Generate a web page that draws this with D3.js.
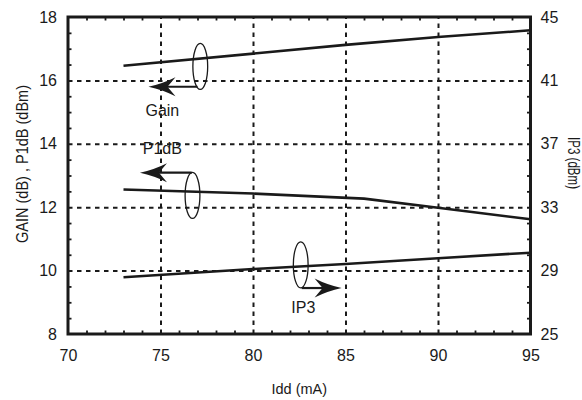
<!DOCTYPE html>
<html>
<head>
<meta charset="utf-8">
<script src="https://cdn.jsdelivr.net/npm/d3@7"></script>
<style>
  html, body { margin: 0; padding: 0; background: #fff; }
  svg { display: block; font-family: Arial, "Liberation Sans", Helvetica, sans-serif; }
</style>
</head>
<body>
<svg id="chart" width="582" height="400"></svg>
<script>
// Drain current sweep (mA) and measured curves
const iddGain = [73, 85, 90, 95];
const gainDb  = [16.46, 17.12, 17.37, 17.58];

const iddP1 = [73, 80, 86, 90, 95];
const p1dBm = [12.56, 12.43, 12.27, 11.98, 11.62];

const iddIp3 = [73, 80, 85, 90, 95];
const ip3dBm = [28.58, 29.10, 29.42, 29.78, 30.13];

// Axis ticks
const xTickLabels  = [70, 75, 80, 85, 90, 95];
const yLeftLabels  = [8, 10, 12, 14, 16, 18];
const yRightLabels = [25, 29, 33, 37, 41, 45];
const xGrid = [75, 80, 85, 90];
const yGrid = [10, 12, 14, 16];

// Curve call-outs: ellipse around the curve, arrow pointing to its axis
const callouts = [
  { label: "Gain", ring: [77.15, 16.44], arrowY: 15.80, arrowFrom: 77.0,  arrowTo: 74.35, textAt: [75.1, 14.88] },
  { label: "P1dB", ring: [76.73, 12.37], arrowY: 13.09, arrowFrom: 76.69, arrowTo: 73.89, textAt: [75.1, 13.68] },
  { label: "IP3",  ring: [82.58, 10.18], arrowY: 9.45,  arrowFrom: 82.63, arrowTo: 84.79, textAt: [82.72, 8.65] }
];

const svg = d3.select("#chart");
const L = 68, R = 530.5, T = 17, B = 334;

const x  = d3.scaleLinear().domain([70, 95]).range([L, R]);
const y  = d3.scaleLinear().domain([8, 18]).range([B, T]);
const y2 = d3.scaleLinear().domain([25, 45]).range([B, T]);

const ink = "#1a1a1a";

// Dashed grid
svg.append("g")
  .attr("transform", `translate(0,${B})`)
  .call(d3.axisBottom(x).tickValues(xGrid).tickSize(-(B - T)).tickFormat(""))
  .call(g => g.select(".domain").remove())
  .selectAll("line").attr("stroke", ink).attr("stroke-width", 2).attr("stroke-dasharray", "4.5,4.5");

svg.append("g")
  .attr("transform", `translate(${L},0)`)
  .call(d3.axisLeft(y).tickValues(yGrid).tickSize(-(R - L)).tickFormat(""))
  .call(g => g.select(".domain").remove())
  .selectAll("line").attr("stroke", ink).attr("stroke-width", 2).attr("stroke-dasharray", "4.5,4.5");

// Inward minor ticks on all four sides
const minorX = d3.range(71, 95, 1).filter(v => v % 5 !== 0);
const minorY = d3.range(8.5, 18, 0.5).filter(v => v % 2 !== 0);
function minor(axis, tr) {
  svg.append("g").attr("transform", tr).call(axis)
    .call(g => g.select(".domain").remove())
    .selectAll("line").attr("stroke", ink).attr("stroke-width", 1.8);
}
minor(d3.axisBottom(x).tickValues(minorX).tickSize(-3.5).tickFormat(""), `translate(0,${B})`);
minor(d3.axisTop(x).tickValues(minorX).tickSize(-3.5).tickFormat(""), `translate(0,${T})`);
minor(d3.axisLeft(y).tickValues(minorY).tickSize(-3.5).tickFormat(""), `translate(${L},0)`);
minor(d3.axisRight(y).tickValues(minorY).tickSize(-3.5).tickFormat(""), `translate(${R},0)`);

// Tick labels
function labels(axis, tr) {
  svg.append("g").attr("transform", tr).call(axis)
    .call(g => g.select(".domain").remove())
    .call(g => g.selectAll("line").remove())
    .selectAll("text").attr("fill", ink).style("font-size", "16px")
    .style("font-family", "Arial, 'Liberation Sans', sans-serif");
}
labels(d3.axisBottom(x).tickValues(xTickLabels).tickSize(0).tickPadding(16), `translate(0,${B})`);
labels(d3.axisLeft(y).tickValues(yLeftLabels).tickSize(0).tickPadding(11), `translate(${L},0)`);
labels(d3.axisRight(y2).tickValues(yRightLabels).tickSize(0).tickPadding(10), `translate(${R},0)`);

// Frame
svg.append("rect")
  .attr("x", L).attr("y", T).attr("width", R - L).attr("height", B - T)
  .attr("fill", "none").attr("stroke", ink).attr("stroke-width", 3);

// Curves
const line = d3.line();
function curve(xs, ys, sy) {
  svg.append("path")
    .attr("d", line(xs.map((v, i) => [x(v), sy(ys[i])])))
    .attr("fill", "none").attr("stroke", ink).attr("stroke-width", 2.6)
    .attr("stroke-linejoin", "round");
}
curve(iddGain, gainDb, y);
curve(iddP1, p1dBm, y);
curve(iddIp3, ip3dBm, y2);

// Call-outs
callouts.forEach(c => {
  const cx = x(c.ring[0]), cy = y(c.ring[1]);
  svg.append("ellipse")
    .attr("cx", cx).attr("cy", cy).attr("rx", 7.4).attr("ry", 23)
    .attr("fill", "none").attr("stroke", ink).attr("stroke-width", 1.3);

  const x0 = x(c.arrowFrom), x1 = x(c.arrowTo), ay = y(c.arrowY);
  const dir = Math.sign(x1 - x0);
  const headLen = 27, half = 9.5, notch = 19;
  svg.append("line")
    .attr("x1", x0).attr("y1", ay).attr("x2", x1 - dir * 10).attr("y2", ay)
    .attr("stroke", ink).attr("stroke-width", 2.2);
  const bx = x1 - dir * headLen, nx = x1 - dir * notch;
  svg.append("path")
    .attr("d", `M${x1},${ay} Q${x1 - dir * 14},${ay - 3} ${bx},${ay - half} L${nx},${ay} L${bx},${ay + half} Q${x1 - dir * 14},${ay + 3} ${x1},${ay} Z`)
    .attr("fill", ink);

  svg.append("text")
    .attr("x", x(c.textAt[0])).attr("y", y(c.textAt[1]))
    .attr("text-anchor", "middle").attr("fill", ink)
    .style("font-size", "16px")
    .text(c.label);
});

// Axis titles
svg.append("text")
  .attr("x", x(82.5)).attr("y", 394)
  .attr("text-anchor", "middle").attr("fill", ink).style("font-size", "14.5px")
  .text("Idd (mA)");

svg.append("text")
  .attr("transform", `translate(28,${(T + B) / 2 - 11.5}) rotate(-90)`)
  .attr("text-anchor", "middle").attr("fill", ink).style("font-size", "16.5px")
  .attr("textLength", 158).attr("lengthAdjust", "spacingAndGlyphs")
  .text("GAIN (dB) , P1dB (dBm)");

svg.append("text")
  .attr("transform", `translate(568,163) rotate(90)`)
  .attr("text-anchor", "middle").attr("fill", ink).style("font-size", "16px")
  .attr("textLength", 52).attr("lengthAdjust", "spacingAndGlyphs")
  .text("IP3 (dBm)");
</script>
</body>
</html>
